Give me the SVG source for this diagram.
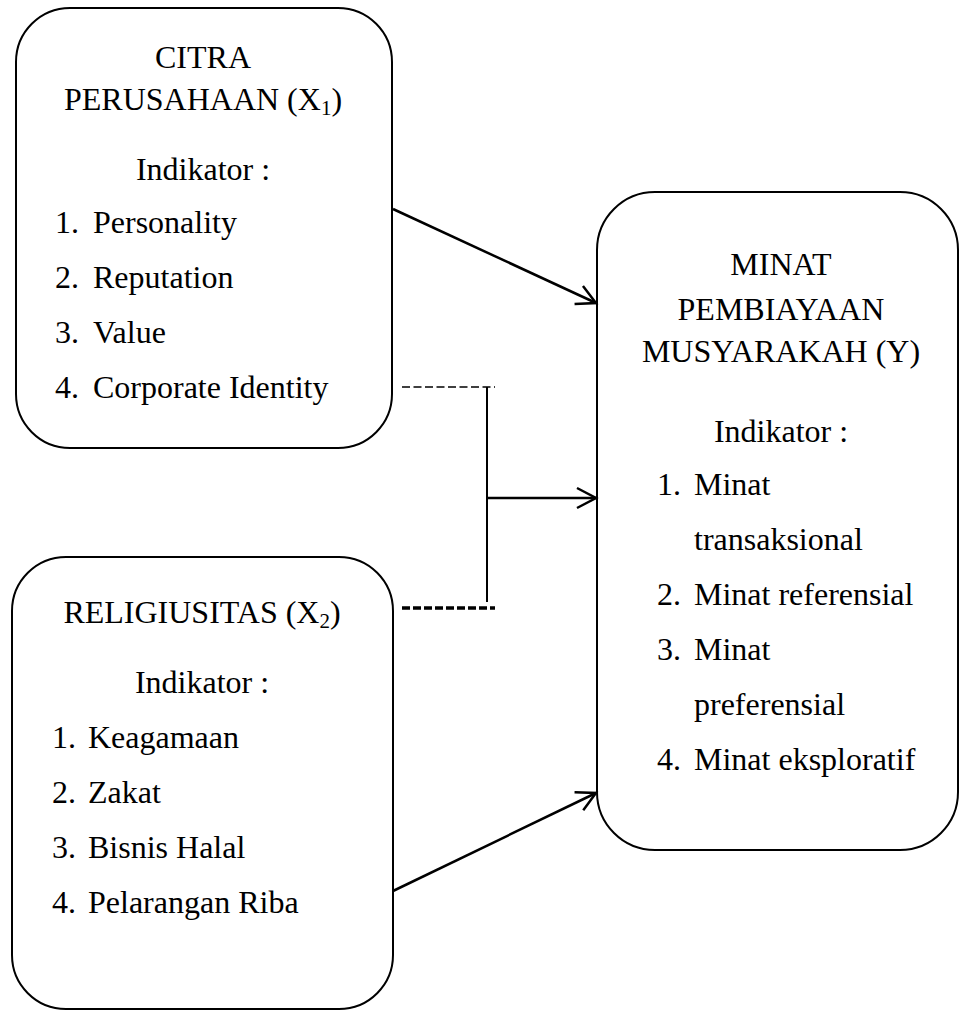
<svg xmlns="http://www.w3.org/2000/svg" width="960" height="1011" viewBox="0 0 960 1011">
<style>
  .box { fill: #fff; stroke: #000; stroke-width: 2; }
  text { font-family: 'Liberation Serif', 'Times New Roman', Tinos, Times, 'DejaVu Serif', serif; font-size: 32px; fill: #000; }
  .c { text-anchor: middle; }
  .conn { stroke: #000; stroke-width: 2.5; fill: none; }
  .dash1 { stroke: #000; stroke-width: 1.5; stroke-dasharray: 8 3.5; fill: none; }
  .dash2 { stroke: #000; stroke-width: 3.5; stroke-dasharray: 8 3; fill: none; }
</style>
<defs>
  <marker id="arr" viewBox="-24 -13 28 26" refX="0" refY="0" markerWidth="28" markerHeight="26" markerUnits="userSpaceOnUse" orient="auto">
    <path d="M-19,-10 L0,0 L-19,10" fill="none" stroke="#000" stroke-width="2.5"/>
  </marker>
</defs>
<rect width="960" height="1011" fill="#fff"/>

<g id="x1">
  <rect class="box" x="16" y="8" width="376" height="440" rx="54" ry="54"/>
  <text class="c" x="203" y="68">CITRA</text>
  <text class="c" x="203" y="110">PERUSAHAAN (X<tspan font-size="21" dy="5">1</tspan><tspan dy="-5">)</tspan></text>
  <text class="c" x="203" y="180">Indikator :</text>
  <text x="55" y="233">1.</text><text x="93" y="233">Personality</text>
  <text x="55" y="288">2.</text><text x="93" y="288">Reputation</text>
  <text x="55" y="343">3.</text><text x="93" y="343">Value</text>
  <text x="55" y="398">4.</text><text x="93" y="398">Corporate Identity</text>
</g>

<g id="x2">
  <rect class="box" x="12" y="557" width="381" height="452" rx="54" ry="54"/>
  <text class="c" x="202" y="623">RELIGIUSITAS (X<tspan font-size="21" dy="5">2</tspan><tspan dy="-5">)</tspan></text>
  <text class="c" x="202" y="693">Indikator :</text>
  <text x="52" y="748">1.</text><text x="88" y="748">Keagamaan</text>
  <text x="52" y="803">2.</text><text x="88" y="803">Zakat</text>
  <text x="52" y="858">3.</text><text x="88" y="858">Bisnis Halal</text>
  <text x="52" y="913">4.</text><text x="88" y="913">Pelarangan Riba</text>
</g>

<g id="y">
  <rect class="box" x="597" y="192" width="361" height="658" rx="58" ry="58"/>
  <text class="c" x="781" y="275">MINAT</text>
  <text class="c" x="781" y="320">PEMBIAYAAN</text>
  <text class="c" x="781" y="362">MUSYARAKAH (Y)</text>
  <text class="c" x="781" y="442">Indikator :</text>
  <text x="657" y="495">1.</text><text x="694" y="495">Minat</text>
  <text x="694" y="550">transaksional</text>
  <text x="657" y="605">2.</text><text x="694" y="605">Minat referensial</text>
  <text x="657" y="660">3.</text><text x="694" y="660">Minat</text>
  <text x="694" y="715">preferensial</text>
  <text x="657" y="770">4.</text><text x="694" y="770">Minat eksploratif</text>
</g>

<g id="connectors">
  <line class="conn" x1="393" y1="209" x2="596" y2="303" marker-end="url(#arr)"/>
  <line class="conn" x1="393" y1="891" x2="596" y2="793" marker-end="url(#arr)"/>
  <line class="dash1" x1="402" y1="387" x2="495" y2="387"/>
  <line class="dash2" x1="402" y1="608" x2="495" y2="608"/>
  <line class="conn" x1="487" y1="387" x2="487" y2="602" style="stroke-width:2"/>
  <line class="conn" x1="487" y1="498" x2="596" y2="498" marker-end="url(#arr)"/>
</g>
</svg>
